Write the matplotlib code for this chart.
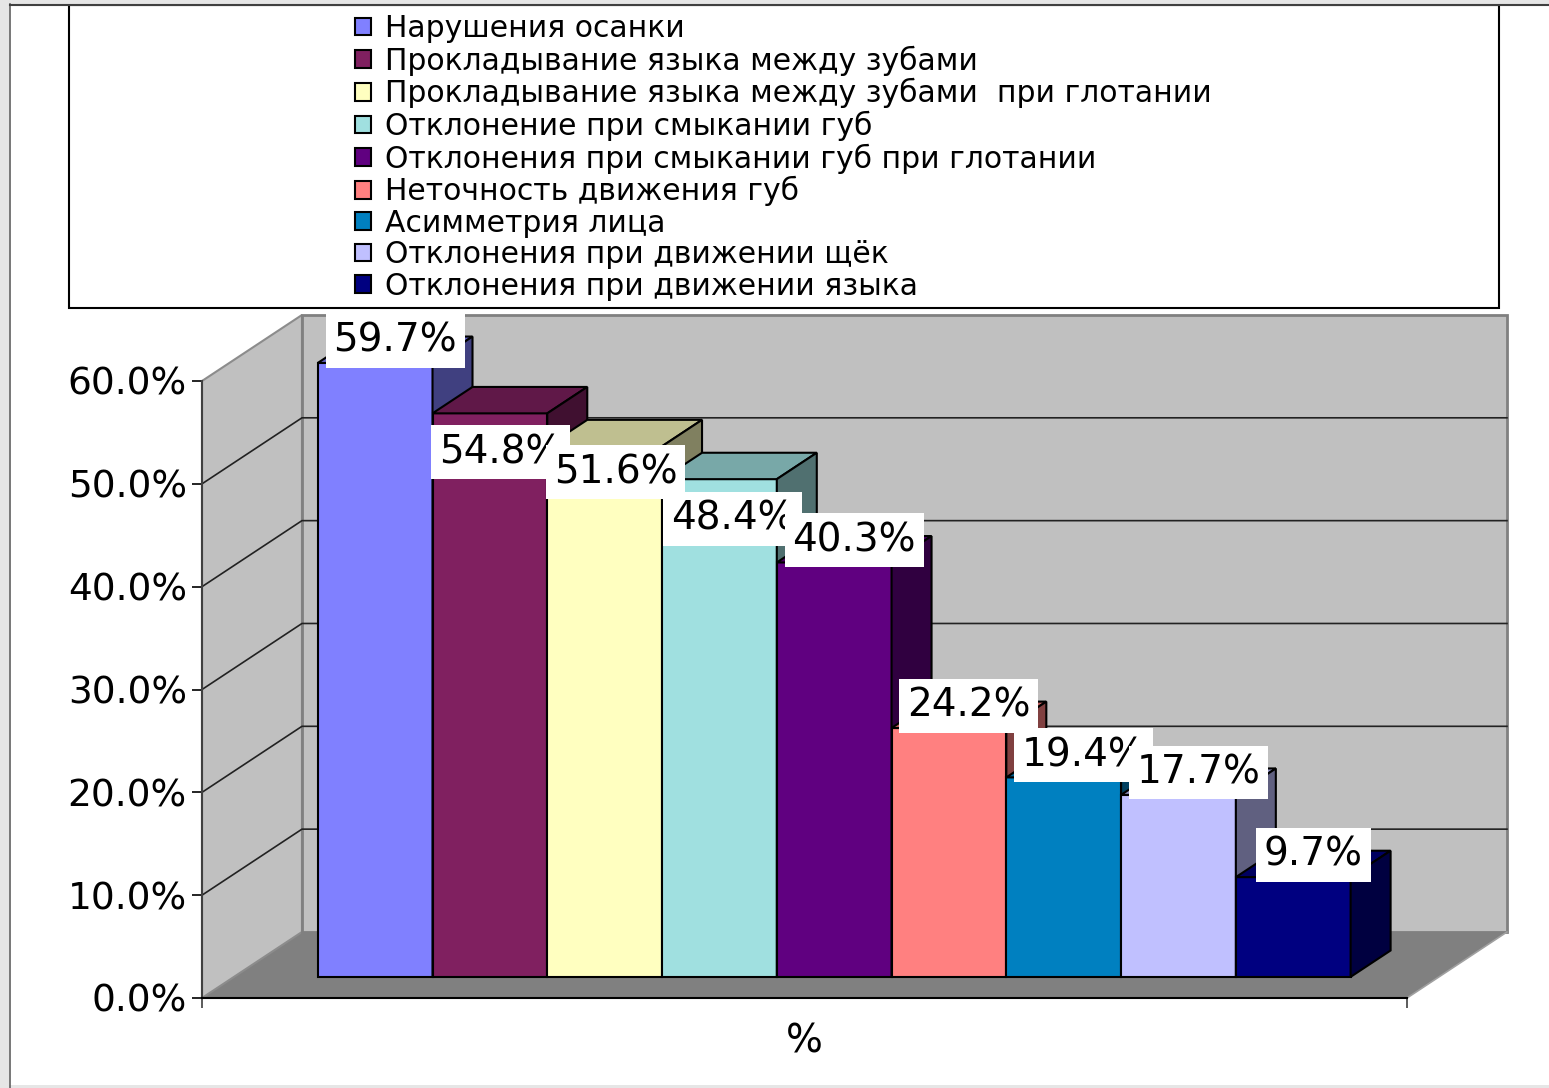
import matplotlib
matplotlib.use("Agg")
import matplotlib.pyplot as plt
from matplotlib.patches import Polygon, Rectangle, Patch
from matplotlib.ticker import PercentFormatter
from matplotlib.colors import to_rgb

plt.rcParams['font.family'] = ['DejaVu Sans']

# ---- data -------------------------------------------------------------
series_names = [
    "Нарушения осанки",
    "Прокладывание языка между зубами",
    "Прокладывание языка между зубами  при глотании",
    "Отклонение при смыкании губ",
    "Отклонения при смыкании губ при глотании",
    "Неточность движения губ",
    "Асимметрия лица",
    "Отклонения при движении щёк",
    "Отклонения при движении языка",
]
values = [59.7, 54.8, 51.6, 48.4, 40.3, 24.2, 19.4, 17.7, 9.7]
category = "%"
y_ticks = [0, 10, 20, 30, 40, 50, 60]

colors = ["#8080FF", "#802060", "#FFFFC0", "#A0E0E0", "#600080",
          "#FF8080", "#0080C0", "#C0C0FF", "#000080"]

# label placement (pixel offsets from the bar-top centre); a few labels
# sit lower so they do not collide with their neighbours
label_dx = [0, -9, -9, -7, 0, 0, 0, 0, 0]
label_dy = [9, -52, -39, -53, 9, 9, 9, 9, 9]

# ---- figure & pseudo-3D geometry -------------------------------------
W, H = 1549, 1088
fig = plt.figure(figsize=(W / 100, H / 100), dpi=100)
fig.patch.set_facecolor("white")
PX = 72 / fig.dpi          # points per pixel

# front plane of the chart box
ax = fig.add_axes([202 / W, (H - 998) / H, (1407 - 202) / W, (998 - 381) / H])
XMAX, YMAX = 10.5, 60
ax.set_xlim(0, XMAX)
ax.set_ylim(0, YMAX)
ax.patch.set_visible(False)

DX, DY = 0.871, 6.42       # full depth of the box in data units
GAP = 0.73                 # space before the first bar
Z0, Z1 = 0.32, 0.72        # bar depth range (fraction of box depth)
ZM = (Z0 + Z1) / 2

# floor, side wall, back wall
ax.add_patch(Polygon([(0, 0), (DX, DY), (XMAX + DX, DY), (XMAX, 0)],
                     closed=True, fc="#808080", ec="none", clip_on=False, zorder=1))
ax.add_patch(Polygon([(0, 0), (DX, DY), (DX, YMAX + DY), (0, YMAX)],
                     closed=True, fc="#c0c0c0", ec="#8c8c8c", lw=1.5,
                     clip_on=False, zorder=1))
ax.add_patch(Rectangle((DX, DY), XMAX, YMAX, fc="#c0c0c0", ec="#808080",
                       lw=2, clip_on=False, zorder=1))
ax.plot([XMAX, XMAX + DX], [0, DY], color="#a0a0a0", lw=1.2,
        clip_on=False, zorder=1.5)

# gridlines running across the side and back walls
for v in y_ticks[1:-1]:
    ax.plot([0, DX, XMAX + DX], [v, v + DY, v + DY], color="#222222",
            lw=1.2, clip_on=False, zorder=2)

# ---- bars --------------------------------------------------------------
lefts = [GAP + i + Z0 * DX for i in range(len(values))]
base = Z0 * DY
bars = ax.bar(lefts, values, bottom=base, width=1, align="edge",
              color=colors, edgecolor="black", linewidth=1.5, clip_on=False)
dz = Z1 - Z0
for i, (rect, v, c) in enumerate(zip(bars, values, colors)):
    z = 5 + i
    rect.set_zorder(z)
    x0 = lefts[i]
    rgb = to_rgb(c)
    top_c = tuple(0.75 * t for t in rgb)
    side_c = tuple(0.5 * t for t in rgb)
    top = [(x0, base + v), (x0 + 1, base + v),
           (x0 + 1 + dz * DX, base + v + dz * DY), (x0 + dz * DX, base + v + dz * DY)]
    side = [(x0 + 1, base), (x0 + 1 + dz * DX, base + dz * DY),
            (x0 + 1 + dz * DX, base + v + dz * DY), (x0 + 1, base + v)]
    ax.add_patch(Polygon(top, closed=True, fc=top_c, ec="black", lw=1.5,
                         clip_on=False, zorder=z))
    ax.add_patch(Polygon(side, closed=True, fc=side_c, ec="black", lw=1.5,
                         clip_on=False, zorder=z))

# value labels
for i, v in enumerate(values):
    ax.annotate(f"{v:.1f}%", xy=(GAP + i + 0.5 + ZM * DX, v + ZM * DY),
                xytext=(label_dx[i] * PX, label_dy[i] * PX), textcoords="offset points",
                ha="center", va="center", fontsize=28, color="black",
                bbox=dict(boxstyle="square,pad=0.2", fc="white", ec="none"),
                annotation_clip=False, zorder=20 + i)

# ---- axes decoration ---------------------------------------------------
for s in ("top", "right"):
    ax.spines[s].set_visible(False)
ax.spines["left"].set_color("#404040")
ax.spines["left"].set_linewidth(1.5)
ax.spines["left"].set_zorder(3)
ax.spines["bottom"].set_color("black")
ax.spines["bottom"].set_linewidth(1.5)
ax.spines["bottom"].set_zorder(3)

ax.set_yticks(y_ticks)
ax.yaxis.set_major_formatter(PercentFormatter(xmax=100, decimals=1))
ax.tick_params(axis="y", direction="out", length=7.2, width=1.2,
               pad=3.6, labelsize=27, colors="black")
ax.set_xticks([0, XMAX])
ax.set_xticklabels(["", ""])
ax.tick_params(axis="x", direction="out", length=7.2, width=1.2, color="#404040")

ax.annotate(category, xy=(XMAX / 2, 0), xytext=(0, -31.5),
            textcoords="offset points", ha="center", va="center",
            fontsize=28, annotation_clip=False)

# ---- legend ------------------------------------------------------------
fig.add_artist(Rectangle((69 / W, 1 - 308 / H), (1499 - 69) / W, (308 - 5) / H,
                         transform=fig.transFigure, fc="white", ec="black",
                         lw=1.5, zorder=0))
handles = [Patch(facecolor=c, edgecolor="black", linewidth=1.5) for c in colors]
fig.legend(handles, series_names, loc="upper left",
           bbox_to_anchor=(355 / W, 1 - 14 / H), frameon=False,
           fontsize=21.5, handlelength=0.54, handleheight=0.54,
           handletextpad=0.48, labelspacing=0.08, borderpad=0,
           borderaxespad=0)

# ---- outer frame -------------------------------------------------------
fig.add_artist(Rectangle((0, 0), 9 / W, 1, transform=fig.transFigure,
                         fc="#e6e6e6", ec="none", zorder=0))
fig.add_artist(Rectangle((0, 1 - 4 / H), 1, 4 / H, transform=fig.transFigure,
                         fc="#e6e6e6", ec="none", zorder=0))
fig.add_artist(Rectangle((0, 0), 1, 3 / H, transform=fig.transFigure,
                         fc="#e6e6e6", ec="none", zorder=0))
fig.add_artist(plt.Line2D([10 / W, 10 / W], [0, 1 - 4 / H], transform=fig.transFigure,
                          color="#606060", lw=1.2, zorder=0.5))
fig.add_artist(plt.Line2D([10 / W, 1], [1 - 5 / H, 1 - 5 / H], transform=fig.transFigure,
                          color="#404040", lw=1.5, zorder=0.5))

fig.savefig("out.png", dpi=100)
